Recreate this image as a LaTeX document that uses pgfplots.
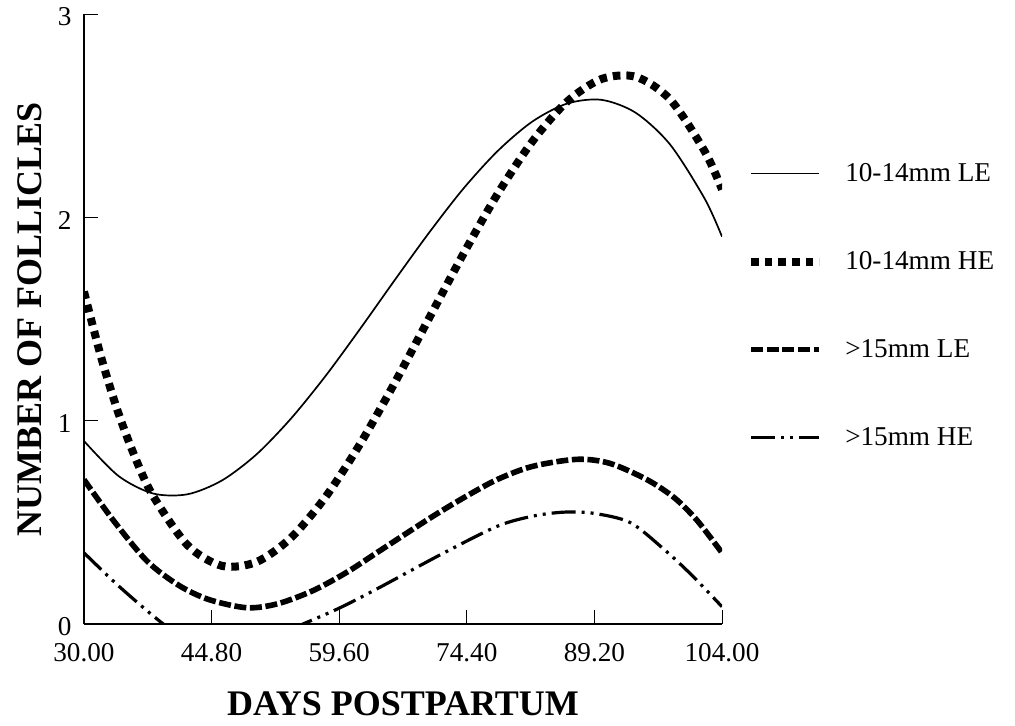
\documentclass[border=0pt]{standalone}
\usepackage{fontspec}
\setmainfont{Liberation Serif}
\usepackage{pgfplots}
\pgfplotsset{compat=1.18}
\begin{document}
\begin{tikzpicture}
\useasboundingbox (-42pt,-50.5pt) rectangle (465.5pt,312pt);
\begin{axis}[
  at={(0pt,0pt)}, anchor=south west,
  scale only axis, width=319pt, height=305pt,
  xmin=30, xmax=104, ymin=0, ymax=3,
  axis x line*=bottom, axis y line*=left,
  axis line style={line width=0.6pt},
  xtick={30,44.8,59.6,74.4,89.2,104},
  xticklabels={30.00,44.80,59.60,74.40,89.20,104.00},
  ytick={0,1,2,3},
  yticklabels={0,1,2,3},
  tick align=inside, major tick length=7pt,
  tick style={black, line width=0.5pt},
  ticklabel style={font=\fontsize{13.6}{16}\selectfont},
  xticklabel style={inner sep=0pt, anchor=north, yshift=-9.5pt},
  yticklabel style={inner sep=0pt, anchor=east, xshift=-6pt, yshift=-1.5pt},
  xlabel={\textbf{DAYS POSTPARTUM}},
  ylabel={\textbf{NUMBER OF FOLLICLES}},
  label style={font=\fontsize{18}{21}\selectfont},
  xlabel style={at={(axis description cs:0.5,-0.1492)}, anchor=base},
  ylabel style={at={(axis description cs:-0.066,0.5)}, anchor=base},
  legend cell align=left,
  legend image code/.code={\draw[#1] (0pt,0pt) -- (34pt,0pt);},
  legend style={at={(axis description cs:1.039,0.522)}, anchor=west,
    draw=none, fill=none, inner sep=0pt, row sep=33.5pt, column sep=11pt,
    font=\fontsize{13.6}{16}\selectfont, nodes={inner sep=0pt}},
]
% 10-14mm LE
\addplot[black, line width=0.85pt, smooth] coordinates {
(30,0.900) (34,0.728) (38,0.642) (42,0.638) (46,0.706) (50,0.834) (54,1.010)
(58,1.219) (62,1.450) (66,1.689) (70,1.923) (74,2.141) (78,2.327) (82,2.471)
(86,2.559) (90,2.578) (94,2.514) (98,2.357) (102,2.091) (104,1.905)};
\addlegendentry{10-14mm LE}
% 10-14mm HE
\addplot[black, line width=4pt, dash pattern=on 3.8pt off 3pt, smooth] coordinates {
(30,1.635) (32,1.310) (34,1.036) (36,0.812) (38,0.631) (42,0.388) (46,0.286)
(50,0.305) (54,0.424) (58,0.624) (62,0.884) (66,1.183) (70,1.502) (74,1.820)
(78,2.117) (82,2.373) (86,2.568) (90,2.680) (94,2.691) (98,2.579) (102,2.324) (104,2.137)};
\addlegendentry{10-14mm HE}
% >15mm LE
\addplot[black, line width=2.8pt, dash pattern=on 6pt off 1.8pt, smooth] coordinates {
(30,0.71) (33.4,0.51) (37.3,0.31) (41,0.19) (44.5,0.12) (48.9,0.08) (52.5,0.10) (56.6,0.165)
(60.5,0.255) (64.3,0.36) (70.1,0.52) (74,0.62) (77.9,0.71) (82,0.775) (87.2,0.81) (91,0.79)
(95.3,0.71) (98.5,0.62) (101.1,0.51) (104,0.35)};
\addlegendentry{>15mm LE}
% >15mm HE
\addplot[black, line width=1.6pt, dash pattern=on 12pt off 3pt on 1.5pt off 3pt on 1.5pt off 3pt, smooth] coordinates {
(30,0.35) (34.2,0.18) (39.2,0) (42,-0.07) (45,-0.10) (48,-0.10) (51,-0.065) (53.5,-0.033)
(55.4,0) (59.7,0.08) (64.3,0.18) (71.3,0.34) (77.9,0.48) (82,0.53) (85.6,0.55) (89,0.545)
(93.3,0.50) (97.2,0.37) (100.5,0.24) (104,0.085)};
\addlegendentry{>15mm HE}
\end{axis}
\end{tikzpicture}
\end{document}
